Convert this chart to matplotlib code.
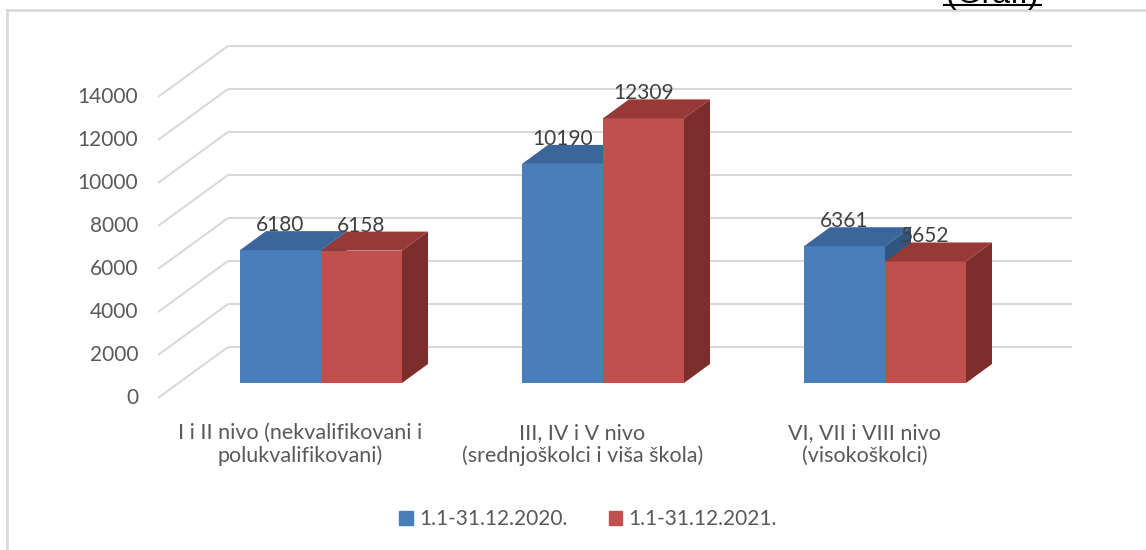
import numpy as np
import matplotlib.pyplot as plt
from matplotlib.patches import Polygon, Patch
from matplotlib.lines import Line2D

# chart data
categories = ["I i II nivo (nekvalifikovani i\npolukvalifikovani)",
              "III, IV i V nivo\n(srednjoškolci i viša škola)",
              "VI, VII i VIII nivo\n(visokoškolci)"]
series_names = ["1.1-31.12.2020.", "1.1-31.12.2021."]
values_2020 = [6180, 10190, 6361]
values_2021 = [6158, 12309, 5652]
yticks = [0, 2000, 4000, 6000, 8000, 10000, 12000, 14000]

plt.rcParams['font.family'] = ['Lato', 'DejaVu Sans']
TXT = '#595959'
GRID = '#d9d9d9'

# pixel scale of the pseudo 3d chart
PX_X = 282.0      # px per category
PX_V = 0.0215     # px per value unit

def dx(px):
    return px / PX_X

def dv(px):
    return px / PX_V

W, H = 1146, 550
fig = plt.figure(figsize=(W / 100, H / 100), dpi=100)
ax = fig.add_axes([0, 0, 1, 1])
ax.set_xlim(-321 / PX_X, (W - 321) / PX_X)
ax.set_ylim(-(H - 383) / PX_V, 383 / PX_V)
ax.axis('off')

# walls: front axis plane and back wall relative to the bar front plane
front_dx, front_dv = dx(-20.6), dv(-15)
back_dx, back_dv = dx(49.4), dv(36)
x_left = dx(178.6 - 321)
x_right = dx(1072 - 321)

for t in yticks:
    ax.plot([x_left + front_dx, x_left + back_dx], [t + front_dv, t + back_dv],
            color=GRID, lw=1.5, zorder=1, solid_capstyle='butt')
    ax.plot([x_left + back_dx, x_right], [t + back_dv, t + back_dv],
            color=GRID, lw=1.5, zorder=1, solid_capstyle='butt')
    ax.text(x_left + front_dx - dx(20), t + front_dv, str(t), ha='right', va='center',
            fontsize=15, color=TXT)

# bars with depth
bw = 81 / PX_X
depth_x, depth_v = dx(26), dv(19)
styles = [('#4a7ebb', '#3a669b', '#2f5580'),
          ('#c0504d', '#973a37', '#7d2d2b')]
x = np.arange(len(categories))
for j, vals in enumerate([values_2020, values_2021]):
    front, top, side = styles[j]
    xs = x + (j - 0.5) * bw
    z = 3 + j
    ax.bar(xs, vals, width=bw, color=front, zorder=z, linewidth=0)
    for xc, v in zip(xs, vals):
        x0, x1 = xc - bw / 2, xc + bw / 2
        ax.add_patch(Polygon([(x0, v), (x1, v), (x1 + depth_x, v + depth_v), (x0 + depth_x, v + depth_v)],
                             closed=True, color=top, zorder=z, lw=0))
        ax.add_patch(Polygon([(x1, 0), (x1 + depth_x, depth_v), (x1 + depth_x, v + depth_v), (x1, v)],
                             closed=True, color=side, zorder=z, lw=0))
        ax.text(xc, v + depth_v, str(v), ha='center', va='baseline',
                fontsize=15, color='#404040', zorder=10)

# category labels on the front plane
for i, lab in enumerate(categories):
    ax.text(i + front_dx, dv(-40), lab, ha='center', va='top', fontsize=15.5,
            color=TXT, linespacing=1.15)

# legend
handles = [Patch(color=styles[0][0]), Patch(color=styles[1][0])]
fig.legend(handles, series_names, loc='center', bbox_to_anchor=(588 / W, 1 - 519 / H),
           ncol=2, frameon=False, fontsize=15, labelcolor=TXT,
           handlelength=0.65, handleheight=0.65, handletextpad=0.3, columnspacing=2.0)

# chart area border
fig.add_artist(Line2D([7 / W, 7 / W], [0, 1 - 10 / H], color=GRID, lw=2))
fig.add_artist(Line2D([7 / W, 1], [1 - 10 / H, 1 - 10 / H], color=GRID, lw=2))

# caption from the page above, cut by the top edge as in the source
fig.text(992 / W, 1 - 3 / H, "(Graf.)", ha='center', va='baseline', fontsize=23,
         family='Liberation Sans', color='black')
fig.add_artist(Line2D([944 / W, 1041 / W], [1 - 5 / H, 1 - 5 / H], color='black', lw=1.5))

fig.savefig('out.png', dpi=100)
